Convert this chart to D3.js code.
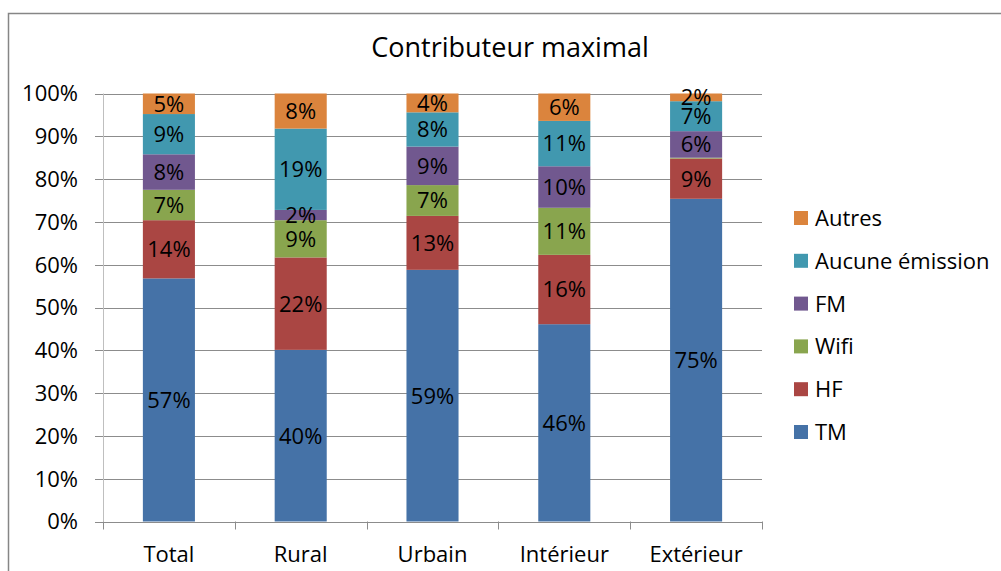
<!DOCTYPE html>
<html>
<head>
<meta charset="utf-8">
<script src="https://cdn.jsdelivr.net/npm/d3@7"></script>
<style>
	body { margin: 0; background: #fff; }
	svg { display: block; font-family: 'Open Sans', sans-serif; }
</style>
</head>
<body>
<svg id="chart" width="1001" height="571"></svg>
<script>
const categories = ['Total', 'Rural', 'Urbain', 'Intérieur', 'Extérieur'];
const seriesNames = ['TM', 'HF', 'Wifi', 'FM', 'Aucune émission', 'Autres'];
const colors = ['#4572A7', '#AA4643', '#89A54E', '#71588F', '#4198AF', '#DB843D'];

// values in %, one array per series, in category order
const tm = [56.8, 40.1, 58.8, 46.1, 75.4];
const hf = [13.6, 21.6, 12.6, 16.2, 9.4];
const wifi = [7.1, 8.7, 7.2, 11.0, 0.2];
const fm = [8.3, 2.4, 9.0, 9.7, 6.2];
const aucune = [9.4, 19.0, 8.0, 10.6, 7.0];
const autres = [4.8, 8.2, 4.4, 6.4, 1.8];

const yTicks = [0, 10, 20, 30, 40, 50, 60, 70, 80, 90, 100];

const svg = d3.select('#chart');
const FONT = '22px';

const plot = { left: 103, right: 762, top: 93.5, bottom: 521.5 };

const seriesValues = [tm, hf, wifi, fm, aucune, autres];
const rows = categories.map((c, i) => {
	const row = { cat: c };
	seriesNames.forEach((s, j) => { row[s] = seriesValues[j][i]; });
	return row;
});

const stacked = d3.stack().keys(seriesNames)(rows);

const x = d3.scaleBand()
	.domain(categories)
	.range([plot.left, plot.right])
	.paddingInner(0.605)
	.paddingOuter(0.3025);

const y = d3.scaleLinear()
	.domain([0, 100])
	.range([plot.bottom, plot.top]);

// outer border
svg.append('rect')
	.attr('x', 8.5)
	.attr('y', 13.5)
	.attr('width', 1010)
	.attr('height', 600)
	.attr('fill', 'none')
	.attr('stroke', '#868686')
	.attr('stroke-width', 1.5);

// title
svg.append('text')
	.attr('x', 510)
	.attr('y', 57)
	.attr('text-anchor', 'middle')
	.style('font-size', '27px')
	.attr('fill', '#000')
	.text('Contributeur maximal');

// gridlines + y tick labels
const gy = svg.append('g');
gy.selectAll('line')
	.data(yTicks)
	.join('line')
	.attr('x1', plot.left - 8)
	.attr('x2', plot.right)
	.attr('y1', d => Math.round(y(d)) + 0.5)
	.attr('y2', d => Math.round(y(d)) + 0.5)
	.attr('stroke', '#8c8c8c')
	.attr('stroke-width', 1);

gy.selectAll('text')
	.data(yTicks)
	.join('text')
	.attr('x', 78)
	.attr('y', d => y(d))
	.attr('dy', '0.36em')
	.attr('text-anchor', 'end')
	.style('font-size', FONT)
	.attr('fill', '#000')
	.text(d => d + '%');

// y axis line
svg.append('line')
	.attr('x1', plot.left + 0.5)
	.attr('x2', plot.left + 0.5)
	.attr('y1', plot.top)
	.attr('y2', plot.bottom)
	.attr('stroke', '#bfbfbf');

// x axis tick marks at band edges
const edges = categories.map(c => x(c) - x.step() * x.paddingInner() / 2).concat([plot.right]);
edges[0] = plot.left;
svg.append('g')
	.selectAll('line')
	.data(edges)
	.join('line')
	.attr('x1', d => Math.round(d) + 0.5)
	.attr('x2', d => Math.round(d) + 0.5)
	.attr('y1', plot.bottom)
	.attr('y2', plot.bottom + 8)
	.attr('stroke', '#8c8c8c');

// x labels
svg.append('g')
	.selectAll('text')
	.data(categories)
	.join('text')
	.attr('x', d => x(d) + x.bandwidth() / 2)
	.attr('y', 562)
	.attr('text-anchor', 'middle')
	.style('font-size', FONT)
	.attr('fill', '#000')
	.text(d => d);

// bars
const layer = svg.append('g')
	.selectAll('g')
	.data(stacked)
	.join('g')
	.attr('fill', (d, i) => colors[i]);

layer.selectAll('rect')
	.data(d => d)
	.join('rect')
	.attr('x', d => x(d.data.cat))
	.attr('width', x.bandwidth())
	.attr('y', d => y(d[1]))
	.attr('height', d => y(d[0]) - y(d[1]));

// data labels (small segments overlap their neighbours, as in the original)
const labels = svg.append('g');
stacked.forEach(s => {
	labels.selectAll(null)
		.data(s.filter(d => d[1] - d[0] >= 1))
		.join('text')
		.attr('x', d => x(d.data.cat) + x.bandwidth() / 2)
		.attr('y', d => y((d[0] + d[1]) / 2))
		.attr('dy', '0.36em')
		.attr('text-anchor', 'middle')
		.style('font-size', FONT)
		.attr('fill', '#000')
		.text(d => Math.round(d[1] - d[0]) + '%');
});

// legend, top entry = last series
const legendItems = seriesNames.map((s, i) => ({ name: s, color: colors[i] })).reverse();
const legend = svg.append('g')
	.selectAll('g')
	.data(legendItems)
	.join('g')
	.attr('transform', (d, i) => `translate(794, ${218 + i * 42.8})`);

legend.append('rect')
	.attr('x', 0)
	.attr('y', -7)
	.attr('width', 14)
	.attr('height', 14)
	.attr('fill', d => d.color);

legend.append('text')
	.attr('x', 21)
	.attr('y', 0)
	.attr('dy', '0.36em')
	.style('font-size', FONT)
	.attr('fill', '#000')
	.text(d => d.name);
</script>
</body>
</html>
